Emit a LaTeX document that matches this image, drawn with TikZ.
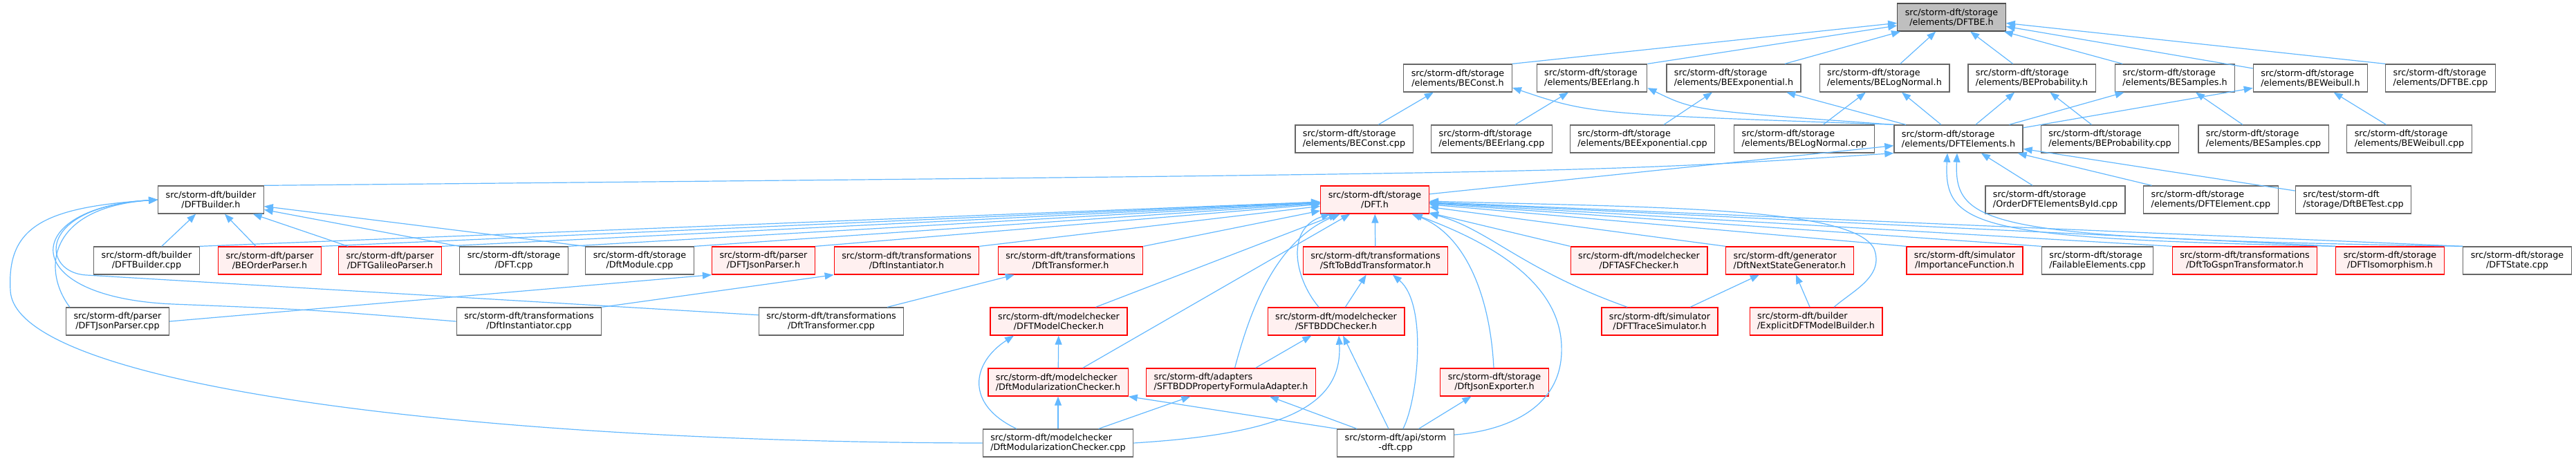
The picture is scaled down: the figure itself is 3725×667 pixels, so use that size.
\documentclass[tikz,border=0pt]{standalone}
\usepackage{fontspec}
\setmainfont{DejaVu Sans}
\usetikzlibrary{arrows.meta}
\definecolor{edgeblue}{RGB}{99,184,255}
\definecolor{boxgray}{RGB}{102,102,102}
\definecolor{redfill}{RGB}{255,240,240}
\definecolor{rootfill}{RGB}{191,191,191}
\newcommand\lbl[2]{\setbox0\hbox{#1}\setbox2\hbox{#2}\ifdim\wd0<\wd2 \makebox[\wd2][l]{#1}\else #1\fi\\#2}

\begin{document}
\begin{tikzpicture}[x=1bp,y=-1bp,
  box/.style={draw=boxgray,fill=white,line width=1.3bp,align=center,
              minimum height=40bp,inner xsep=11bp,inner ysep=2bp,
              font=\fontsize{12.8}{14.5}\selectfont},
  redbox/.style={box,draw=red},
  rootbox/.style={box,draw=black!70,fill=rootfill},
  dep/.style={draw=edgeblue,line width=1.2bp,{Triangle[length=13bp,width=10bp]}-}]
\useasboundingbox (0,0) rectangle (3725,667);
\tikzset{redbox/.append style={fill=redfill}}
\node[rootbox] (root) at (2822,25) {\lbl{src/storm-dft/storage}{/elements/DFTBE.h}};
\node[box] (beconst) at (2108,113) {\lbl{src/storm-dft/storage}{/elements/BEConst.h}};
\node[box] (beerlang) at (2302,113) {\lbl{src/storm-dft/storage}{/elements/BEErlang.h}};
\node[box] (beexp) at (2507,113) {\lbl{src/storm-dft/storage}{/elements/BEExponential.h}};
\node[box] (belognormal) at (2725,113) {\lbl{src/storm-dft/storage}{/elements/BELogNormal.h}};
\node[box] (beprob) at (2938,113) {\lbl{src/storm-dft/storage}{/elements/BEProbability.h}};
\node[box] (besamples) at (3145,113) {\lbl{src/storm-dft/storage}{/elements/BESamples.h}};
\node[box] (beweibull) at (3341,113) {\lbl{src/storm-dft/storage}{/elements/BEWeibull.h}};
\node[box] (dftbecpp) at (3529,113) {\lbl{src/storm-dft/storage}{/elements/DFTBE.cpp}};
\node[box] (beconstcpp) at (1958,201) {\lbl{src/storm-dft/storage}{/elements/BEConst.cpp}};
\node[box] (beerlangcpp) at (2157,201) {\lbl{src/storm-dft/storage}{/elements/BEErlang.cpp}};
\node[box] (beexpcpp) at (2375,201) {\lbl{src/storm-dft/storage}{/elements/BEExponential.cpp}};
\node[box] (belognormalcpp) at (2609,201) {\lbl{src/storm-dft/storage}{/elements/BELogNormal.cpp}};
\node[box] (dftelements) at (2832,201) {\lbl{src/storm-dft/storage}{/elements/DFTElements.h}};
\node[box] (beprobcpp) at (3051,201) {\lbl{src/storm-dft/storage}{/elements/BEProbability.cpp}};
\node[box] (besamplescpp) at (3273,201) {\lbl{src/storm-dft/storage}{/elements/BESamples.cpp}};
\node[box] (beweibullcpp) at (3484,201) {\lbl{src/storm-dft/storage}{/elements/BEWeibull.cpp}};
\node[box] (dftbuilder) at (305,289) {\lbl{src/storm-dft/builder}{/DFTBuilder.h}};
\node[redbox] (dft) at (1988,289) {\lbl{src/storm-dft/storage}{/DFT.h}};
\node[box] (orderbyid) at (2972,289) {\lbl{src/storm-dft/storage}{/OrderDFTElementsById.cpp}};
\node[box] (dftelementcpp) at (3197,289) {\lbl{src/storm-dft/storage}{/elements/DFTElement.cpp}};
\node[box] (dftbetest) at (3403,289) {\lbl{src/test/storm-dft}{/storage/DftBETest.cpp}};
\node[box] (buildercpp) at (212,377) {\lbl{src/storm-dft/builder}{/DFTBuilder.cpp}};
\node[redbox] (beorderparser) at (390,377) {\lbl{src/storm-dft/parser}{/BEOrderParser.h}};
\node[redbox] (galileoparser) at (564,377) {\lbl{src/storm-dft/parser}{/DFTGalileoParser.h}};
\node[box] (dftcpp) at (743,377) {\lbl{src/storm-dft/storage}{/DFT.cpp}};
\node[box] (dftmodule) at (925,377) {\lbl{src/storm-dft/storage}{/DftModule.cpp}};
\node[redbox] (jsonparser) at (1104,377) {\lbl{src/storm-dft/parser}{/DFTJsonParser.h}};
\node[redbox] (instantiator) at (1311,377) {\lbl{src/storm-dft/transformations}{/DftInstantiator.h}};
\node[redbox] (transformer) at (1548,377) {\lbl{src/storm-dft/transformations}{/DftTransformer.h}};
\node[redbox] (sfttobdd) at (1989,377) {\lbl{src/storm-dft/transformations}{/SftToBddTransformator.h}};
\node[redbox] (asfchecker) at (2370,377) {\lbl{src/storm-dft/modelchecker}{/DFTASFChecker.h}};
\node[redbox] (nextstategen) at (2588,377) {\lbl{src/storm-dft/generator}{/DftNextStateGenerator.h}};
\node[redbox] (importance) at (2841,377) {\lbl{src/storm-dft/simulator}{/ImportanceFunction.h}};
\node[box] (failable) at (3033,377) {\lbl{src/storm-dft/storage}{/FailableElements.cpp}};
\node[redbox] (dfttogspn) at (3246,377) {\lbl{src/storm-dft/transformations}{/DftToGspnTransformator.h}};
\node[redbox] (isomorphism) at (3456,377) {\lbl{src/storm-dft/storage}{/DFTIsomorphism.h}};
\node[box] (dftstatecpp) at (3640,377) {\lbl{src/storm-dft/storage}{/DFTState.cpp}};
\node[box] (jsonparsercpp) at (170,465) {\lbl{src/storm-dft/parser}{/DFTJsonParser.cpp}};
\node[box] (instantiatorcpp) at (765,465) {\lbl{src/storm-dft/transformations}{/DftInstantiator.cpp}};
\node[box] (transformercpp) at (1202,465) {\lbl{src/storm-dft/transformations}{/DftTransformer.cpp}};
\node[redbox] (modelchecker) at (1531,465) {\lbl{src/storm-dft/modelchecker}{/DFTModelChecker.h}};
\node[redbox] (sftbddchecker) at (1932,465) {\lbl{src/storm-dft/modelchecker}{/SFTBDDChecker.h}};
\node[redbox] (tracesim) at (2400,465) {\lbl{src/storm-dft/simulator}{/DFTTraceSimulator.h}};
\node[redbox] (explicitbuilder) at (2626,465) {\lbl{src/storm-dft/builder}{/ExplicitDFTModelBuilder.h}};
\node[redbox] (modularh) at (1530,553) {\lbl{src/storm-dft/modelchecker}{/DftModularizationChecker.h}};
\node[redbox] (bddadapter) at (1780,553) {\lbl{src/storm-dft/adapters}{/SFTBDDPropertyFormulaAdapter.h}};
\node[redbox] (jsonexporter) at (2161,553) {\lbl{src/storm-dft/storage}{/DftJsonExporter.h}};
\node[box] (modularcpp) at (1530,641) {\lbl{src/storm-dft/modelchecker}{/DftModularizationChecker.cpp}};
\node[box] (stormdftcpp) at (2018,641) {\lbl{src/storm-dft/api/storm}{-dft.cpp}};

\draw[dep] (root) -- (beconst.north east);
\draw[dep] (root) -- (beerlang.north east);
\draw[dep] (root) -- (beexp);
\draw[dep] (root) -- (belognormal);
\draw[dep] (root) -- (beprob);
\draw[dep] (root) -- (besamples);
\draw[dep] (root) -- (beweibull);
\draw[dep] (root) -- (dftbecpp.north west);
\draw[dep] (beconst) -- (beconstcpp);
\draw[dep] (beerlang) -- (beerlangcpp);
\draw[dep] (beexp) -- (beexpcpp);
\draw[dep] (belognormal) -- (belognormalcpp);
\draw[dep] (beprob) -- (beprobcpp);
\draw[dep] (besamples) -- (besamplescpp);
\draw[dep] (beweibull) -- (beweibullcpp);
\draw[dep] (beconst.-10) .. controls (2300,165) .. (dftelements.north west);
\draw[dep] (beerlang.-10) .. controls (2450,160) .. (dftelements.north west);
\draw[dep] (beexp) -- (dftelements);
\draw[dep] (belognormal) -- (dftelements);
\draw[dep] (beprob) -- (dftelements);
\draw[dep] (besamples) -- (dftelements);
\draw[dep] (beweibull) -- (dftelements);
\draw[dep] (dftelements) -- (dft);
\draw[dep] (dftelements.south west) .. controls (2300,250) .. (dftbuilder.north east);
\draw[dep] (dftelements) -- (orderbyid);
\draw[dep] (dftelements) -- (dftelementcpp);
\draw[dep] (dftelements) -- (dftbetest);
\draw[dep] ([xshift=-16bp]dftelements.south) .. controls (2810,330) and (2860,345) .. (isomorphism.north west);
\draw[dep] ([xshift=-2bp]dftelements.south) .. controls (2825,330) and (2880,345) .. (dftstatecpp.north west);
\draw[dep] (dftbuilder) -- (buildercpp);
\draw[dep] (dftbuilder) -- (beorderparser);
\draw[dep] (dftbuilder) -- (galileoparser);
\draw[dep] (dftbuilder) -- (dftcpp.north west);
\draw[dep] (dftbuilder) -- (dftmodule.north west);
\draw[dep] (dftbuilder.west) .. controls (70,300) and (60,390) .. ([xshift=6bp]jsonparsercpp.north west);
\draw[dep] (dftbuilder.west) .. controls (30,300) and (20,430) .. (250,440) .. controls (450,448) .. (instantiatorcpp.west);
\draw[dep] (dftbuilder.west) .. controls (50,300) and (60,395) .. (125,398) -- (transformercpp.175);
\draw[dep] (dftbuilder.west) .. controls (60,300) and (10,330) .. (15,420) .. controls (20,560) and (700,640) .. (modularcpp.west);
\draw[dep] (dft) -- (buildercpp.north east);
\draw[dep] (dft) -- (beorderparser.north east);
\draw[dep] (dft) -- (galileoparser.north east);
\draw[dep] (dft) -- (dftcpp.north east);
\draw[dep] (dft) -- (dftmodule.north east);
\draw[dep] (dft) -- (jsonparser.north east);
\draw[dep] (dft) -- (instantiator.north east);
\draw[dep] (dft) -- (transformer.north east);
\draw[dep] (dft) -- (sfttobdd);
\draw[dep] (dft) -- (asfchecker.north west);
\draw[dep] (dft) -- (nextstategen.north west);
\draw[dep] (dft) -- (importance.north west);
\draw[dep] (dft) -- (failable.north west);
\draw[dep] (dft) -- (dfttogspn.north west);
\draw[dep] (dft) -- (isomorphism.north west);
\draw[dep] (dft) -- (dftstatecpp.north west);
\draw[dep] (dft) -- (modelchecker);
\draw[dep] (dft) -- (modularh);
\draw[dep] (dft) .. controls (1840,350) and (1805,460) .. (bddadapter);
\draw[dep] (dft) .. controls (1860,330) and (1870,400) .. ([xshift=-25bp]sftbddchecker.north);
\draw[dep] (dft) .. controls (2150,330) and (2200,390) .. ([xshift=38bp]tracesim.north west);
\draw[dep] (dft) .. controls (2400,300) and (2680,300) .. (2710,360) .. controls (2725,400) and (2680,420) .. ([xshift=26bp]explicitbuilder.north);
\draw[dep] (dft) .. controls (2120,340) and (2155,430) .. (jsonexporter);
\draw[dep] (dft) .. controls (2180,360) and (2255,420) .. (2258,500) .. controls (2262,600) and (2160,625) .. (stormdftcpp.8);
\draw[dep] (jsonparser.south west) -- (jsonparsercpp.east);
\draw[dep] (instantiator.south west) -- (instantiatorcpp.north east);
\draw[dep] (transformer) -- (transformercpp);
\draw[dep] (sfttobdd) -- (sftbddchecker);
\draw[dep] (sfttobdd) .. controls (2065,440) and (2050,580) .. (stormdftcpp);
\draw[dep] (nextstategen) -- (tracesim);
\draw[dep] (nextstategen) -- (explicitbuilder);
\draw[dep] (modelchecker) -- (modularh);
\draw[dep] ([xshift=-65bp]modelchecker.south) .. controls (1405,525) and (1395,585) .. ([xshift=-60bp]modularcpp.north);
\draw[dep] (modularh) -- (modularcpp);
\draw[dep] (modularh.south east) -- (stormdftcpp.north west);
\draw[dep] (bddadapter) -- (modularcpp);
\draw[dep] (bddadapter) -- (stormdftcpp);
\draw[dep] (sftbddchecker) -- (bddadapter);
\draw[dep] ([xshift=4bp]sftbddchecker.south) .. controls (1942,590) and (1850,628) .. (modularcpp.east);
\draw[dep] (sftbddchecker) -- (stormdftcpp);
\draw[dep] (jsonexporter) -- (stormdftcpp);
\end{tikzpicture}
\end{document}
